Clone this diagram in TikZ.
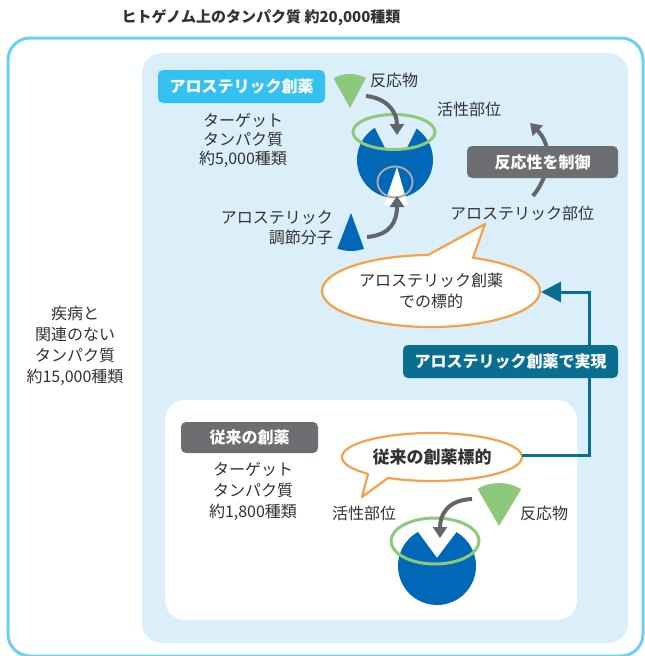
\documentclass[tikz,border=0pt]{standalone}
\usepackage{fontspec}
\setmainfont{Noto Sans CJK JP}
\usepackage{tikz}
\usetikzlibrary{calc,arrows.meta}
\definecolor{ink}{HTML}{333131}
\definecolor{sky}{HTML}{6DCFF6}
\definecolor{pale}{HTML}{DBEFFA}
\definecolor{cyanbox}{HTML}{35C1F0}
\definecolor{grybox}{HTML}{6D6E71}
\definecolor{deepteal}{HTML}{0A6E91}
\definecolor{prot}{HTML}{0068B7}
\definecolor{leaf}{HTML}{8DC97B}
\definecolor{orng}{HTML}{F5A04B}
\definecolor{arrg}{HTML}{646569}
\definecolor{ringg}{HTML}{A7A9AC}
\tikzset{
  frame/.style={draw=sky, line width=3pt, rounded corners=22pt},
  panel/.style={fill=pale, rounded corners=20pt},
  wpanel/.style={fill=white, rounded corners=20pt},
  tagbox/.style={text=white, font=\fontsize{16}{18}\selectfont\bfseries, rounded corners=5pt, inner sep=0pt},
  lab/.style={text=ink, font=\fontsize{16}{20}\selectfont, align=center, inner sep=0pt},
  ttl/.style={text=ink, font=\fontsize{15}{18}\selectfont\bfseries, inner sep=0pt},
  pro/.style={fill=prot},
  reac/.style={fill=leaf},
  site/.style={draw=leaf, line width=3pt},
  ring/.style={draw=ringg, line width=2pt},
  arr/.style={draw=arrg, line width=4pt, -{Triangle[length=11pt,width=14pt]}},
  bub/.style={draw=orng, fill=white, line width=2.2pt, line join=round},
  link/.style={draw=deepteal, line width=3pt},
}
\begin{document}
\begin{tikzpicture}[x=1pt,y=-1pt]
  \useasboundingbox (0,0) rectangle (645,656);

  % frames
  \draw[frame] (8,38) rectangle (643,656);
  \fill[panel] (142,53) rectangle (628,643);
  \fill[wpanel] (165,400) rectangle (577,620);

  \node[ttl] (title) at (261,18) {ヒトゲノム上のタンパク質 約20,000種類};
  \node[lab, font=\fontsize{16}{21}\selectfont] (other) at (75,346) {疾病と\\関連のない\\タンパク質\\約15,000種類};

  % allosteric part
  \node[tagbox, fill=cyanbox, minimum width=167pt, minimum height=33pt] (aloTag) at (241.5,86.5) {アロステリック創薬};
  \node[lab, font=\fontsize{16}{19}\selectfont] (aloNum) at (243,140) {ターゲット\\タンパク質\\約5,000種類};

  \coordinate (T) at (395,160);
  \fill[pro] (T) ++(237.7:38) arc[start angle=237.7, end angle=-55.5, radius=38]
    -- (407,148) -- (385,148) -- cycle;
  \fill[white] (397,167) -- (408,205) -- (384,205) -- cycle;
  \draw[ring] (395,182) ellipse (17.5 and 15.5);
  \draw[site] (394,132) ellipse (41 and 17.5);

  \coordinate (R1) at (350,108);
  \fill[reac] (R1) -- ++(-119:34) arc[start angle=-119, end angle=-62, radius=34] -- cycle;
  \node[lab] (reac1) at (394,80) {反応物};
  \coordinate (M1) at (351,213);
  \fill[pro] (M1) -- ++(111:38) arc[start angle=111, end angle=70, radius=38] -- cycle;
  \node[lab, align=right, anchor=east] (mod) at (333,228) {アロステリック\\調節分子};

  \coordinate (r1a) at (366,96);
  \coordinate (r1b) at (397,135);
  \draw[arr] (r1a) .. controls (385,98) and (397,110) .. (r1b);
  \coordinate (m1a) at (367,237);
  \coordinate (m1b) at (397,196);
  \draw[arr] (m1a) .. controls (390,235) and (397,222) .. (m1b);

  \node[lab] (act1) at (469,109) {活性部位};
  \node[lab] (aloSite) at (522,213) {アロステリック部位};
  \coordinate (c1a) at (533,196);
  \coordinate (c1b) at (530,123);
  \draw[arr] (c1a) .. controls (552,172) and (552,145) .. (c1b);
  \node[tagbox, fill=grybox, minimum width=151pt, minimum height=32pt] (ctrl) at (542.5,162) {反応性を制御};

  % speech bubbles
  \coordinate (B1) at (431,291);
  \draw[bub] ($(B1)+(-67.3:109 and 36)$) arc[start angle=-67.3, end angle=268.4, x radius=109, y radius=36]
    -- (485,224) -- cycle;
  \node[lab, font=\fontsize{16}{21}\selectfont] (aloTgt) at (B1) {アロステリック創薬\\での標的};

  \coordinate (B2) at (432,457);
  \draw[bub] ($(B2)+(135.3:90 and 24)$) arc[start angle=135.3, end angle=479.3, x radius=90, y radius=24]
    -- (362,497) -- cycle;
  \node[lab, font=\fontsize{17}{18}\selectfont\bfseries] (convTgt) at (B2) {従来の創薬標的};

  % link between the two targets
  \coordinate (b2e) at (522,455);
  \coordinate (turn1) at (589,455);
  \coordinate (turn2) at (589,292);
  \coordinate (b1e) at (541,292);
  \draw[link, -{Triangle[length=20pt,width=20pt]}] (b2e) -- (turn1) -- (turn2) -- (b1e);
  \node[tagbox, fill=deepteal, minimum width=215pt, minimum height=33pt] (real) at (510.5,361.5) {アロステリック創薬で実現};

  % conventional part
  \node[tagbox, fill=grybox, minimum width=137pt, minimum height=31pt] (convTag) at (249.5,437.5) {従来の創薬};
  \node[lab, font=\fontsize{16}{21}\selectfont] (convNum) at (253,491) {ターゲット\\タンパク質\\約1,800種類};
  \node[lab] (act2) at (364,513) {活性部位};

  \coordinate (P) at (437,566);
  \fill[pro] (P) ++(240.8:39) arc[start angle=240.8, end angle=-60.1, radius=39] -- (437,558) -- cycle;
  \draw[site] (435,541) ellipse (44 and 23);

  \coordinate (R2) at (499,526);
  \fill[reac] (R2) -- ++(-120:43) arc[start angle=-120, end angle=-59, radius=43] -- cycle;
  \node[lab] (reac2) at (544,513) {反応物};
  \coordinate (r2a) at (472,499);
  \coordinate (r2b) at (440,538);
  \draw[arr] (r2a) .. controls (448,500) and (440,514) .. (r2b);
\end{tikzpicture}
\end{document}
